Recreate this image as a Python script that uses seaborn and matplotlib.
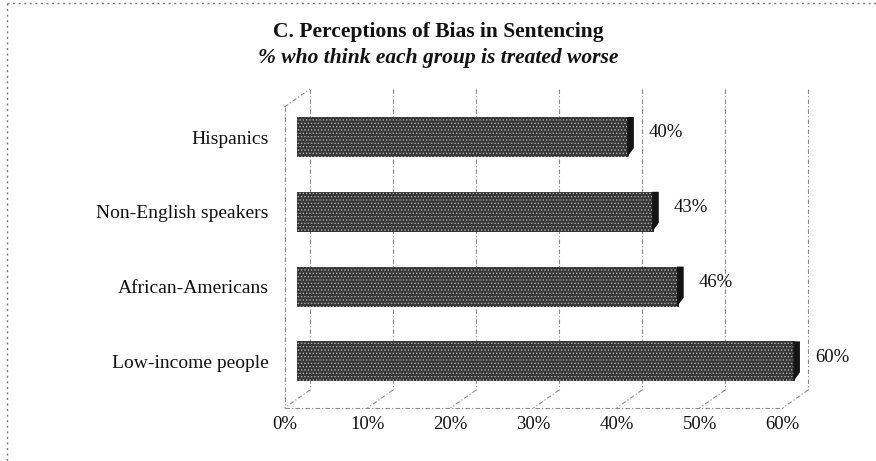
import matplotlib
matplotlib.use("Agg")
import matplotlib.pyplot as plt
from matplotlib.lines import Line2D
from matplotlib.patches import Polygon
import pandas as pd
import seaborn as sns

# ---- data -------------------------------------------------------------
groups = ["Hispanics", "Non-English speakers", "African-Americans", "Low-income people"]
shares = [40, 43, 46, 60]
tick_values = [0, 10, 20, 30, 40, 50, 60]
tick_labels = ["0%", "10%", "20%", "30%", "40%", "50%", "60%"]

title_main = "C. Perceptions of Bias in Sentencing"
title_sub = "% who think each group is treated worse"

df = pd.DataFrame({"group": groups, "share": shares})

# ---- style ------------------------------------------------------------
sns.set_theme(style="white")
plt.rcParams["font.family"] = ["Liberation Serif", "DejaVu Serif"]
plt.rcParams["hatch.linewidth"] = 0.6

W, H = 876, 461
fig = plt.figure(figsize=(W / 100, H / 100), dpi=100)
fig.patch.set_facecolor("white")

# pixel layout of the plotting box (x=0 at mid-depth of the pseudo-3D floor)
px_per_pct = 8.49
left_px, right_px = 284.5, 860
top_px, bottom_px = 89, 408
row0_px, row_step_px = 137, 74.8

ax = fig.add_axes([left_px / W, 1 - bottom_px / H,
                   (right_px - left_px) / W, (bottom_px - top_px) / H])

sns.barplot(data=df, x="share", y="group", orient="h", ax=ax,
            color="#363636", width=0.535, saturation=1,
            edgecolor="#b0b0b0", linewidth=0, hatch=".....")

ax.set_xlim(0, (right_px - left_px) / px_per_pct)
y_top = (top_px - row0_px) / row_step_px
y_bot = (bottom_px - row0_px) / row_step_px
ax.set_ylim(y_bot, y_top)

# depth offsets of the pseudo-3D frame (half depth, in data units)
dx = 13 / px_per_pct
dy = 9 / row_step_px
floor_front = y_bot
floor_back = y_bot - 2 * dy
wall_top_back = y_top
wall_top_front = y_top + 18 / row_step_px

grid_kw = dict(color="#8c8c8c", lw=0.8, linestyle=(0, (4, 2, 1, 2)),
               clip_on=False, zorder=0.5)

for v in tick_values:
    # back-wall gridline and its diagonal across the floor
    ax.plot([v + dx, v + dx], [wall_top_back, floor_back], **grid_kw)
    ax.plot([v + dx, v - dx], [floor_back, floor_front], **grid_kw)

# front edge of the floor and the left side wall
ax.plot([-dx, tick_values[-1] - dx], [floor_front, floor_front], **grid_kw)
ax.plot([-dx, -dx], [wall_top_front, floor_front], **grid_kw)
ax.plot([-dx, dx], [wall_top_front, wall_top_back], **grid_kw)

# dark end face on every bar and value labels
for patch, val in zip(ax.patches, shares):
    y0 = patch.get_y()
    h = patch.get_height()
    e = patch.get_x() + patch.get_width()
    face = Polygon([(e - 0.25, y0), (e + 0.55, y0), (e + 0.55, y0 + h - 0.12),
                    (e - 0.25, y0 + h)], closed=True,
                   facecolor="#141414", edgecolor="none", zorder=3)
    ax.add_patch(face)
    ax.annotate(f"{val}%", xy=(e, y0 + h / 2), xytext=(14, 3),
                textcoords="offset points", ha="left", va="center",
                fontsize=13.5, color="#111111")

ax.set_xticks([v - dx for v in tick_values])
ax.set_xticklabels(tick_labels, fontsize=13.5, color="#111111")
ax.tick_params(axis="x", length=0, pad=5.5)
ax.tick_params(axis="y", length=0, pad=11.5, labelsize=14, labelcolor="#111111")
ax.set_xlabel("")
ax.set_ylabel("")
for s in ax.spines.values():
    s.set_visible(False)
ax.set_facecolor("none")

# titles
fig.text(438 / W, 1 - 37 / H, title_main, ha="center", va="baseline",
         fontsize=15.5, fontweight="bold", color="#111111")
fig.text(438 / W, 1 - 63 / H, title_sub, ha="center", va="baseline",
         fontsize=15.5, fontweight="bold", fontstyle="italic", color="#111111")

# dotted outline of the chart area
border_kw = dict(color="#7a7a7a", lw=1.0, linestyle=(0, (1.5, 2.5)),
                 transform=fig.transFigure)
fig.add_artist(Line2D([7 / W, 1.0], [1 - 3 / H, 1 - 3 / H], **border_kw))
fig.add_artist(Line2D([7 / W, 7 / W], [1 - 3 / H, 0.0], **border_kw))

fig.savefig("out.png", dpi=100)
